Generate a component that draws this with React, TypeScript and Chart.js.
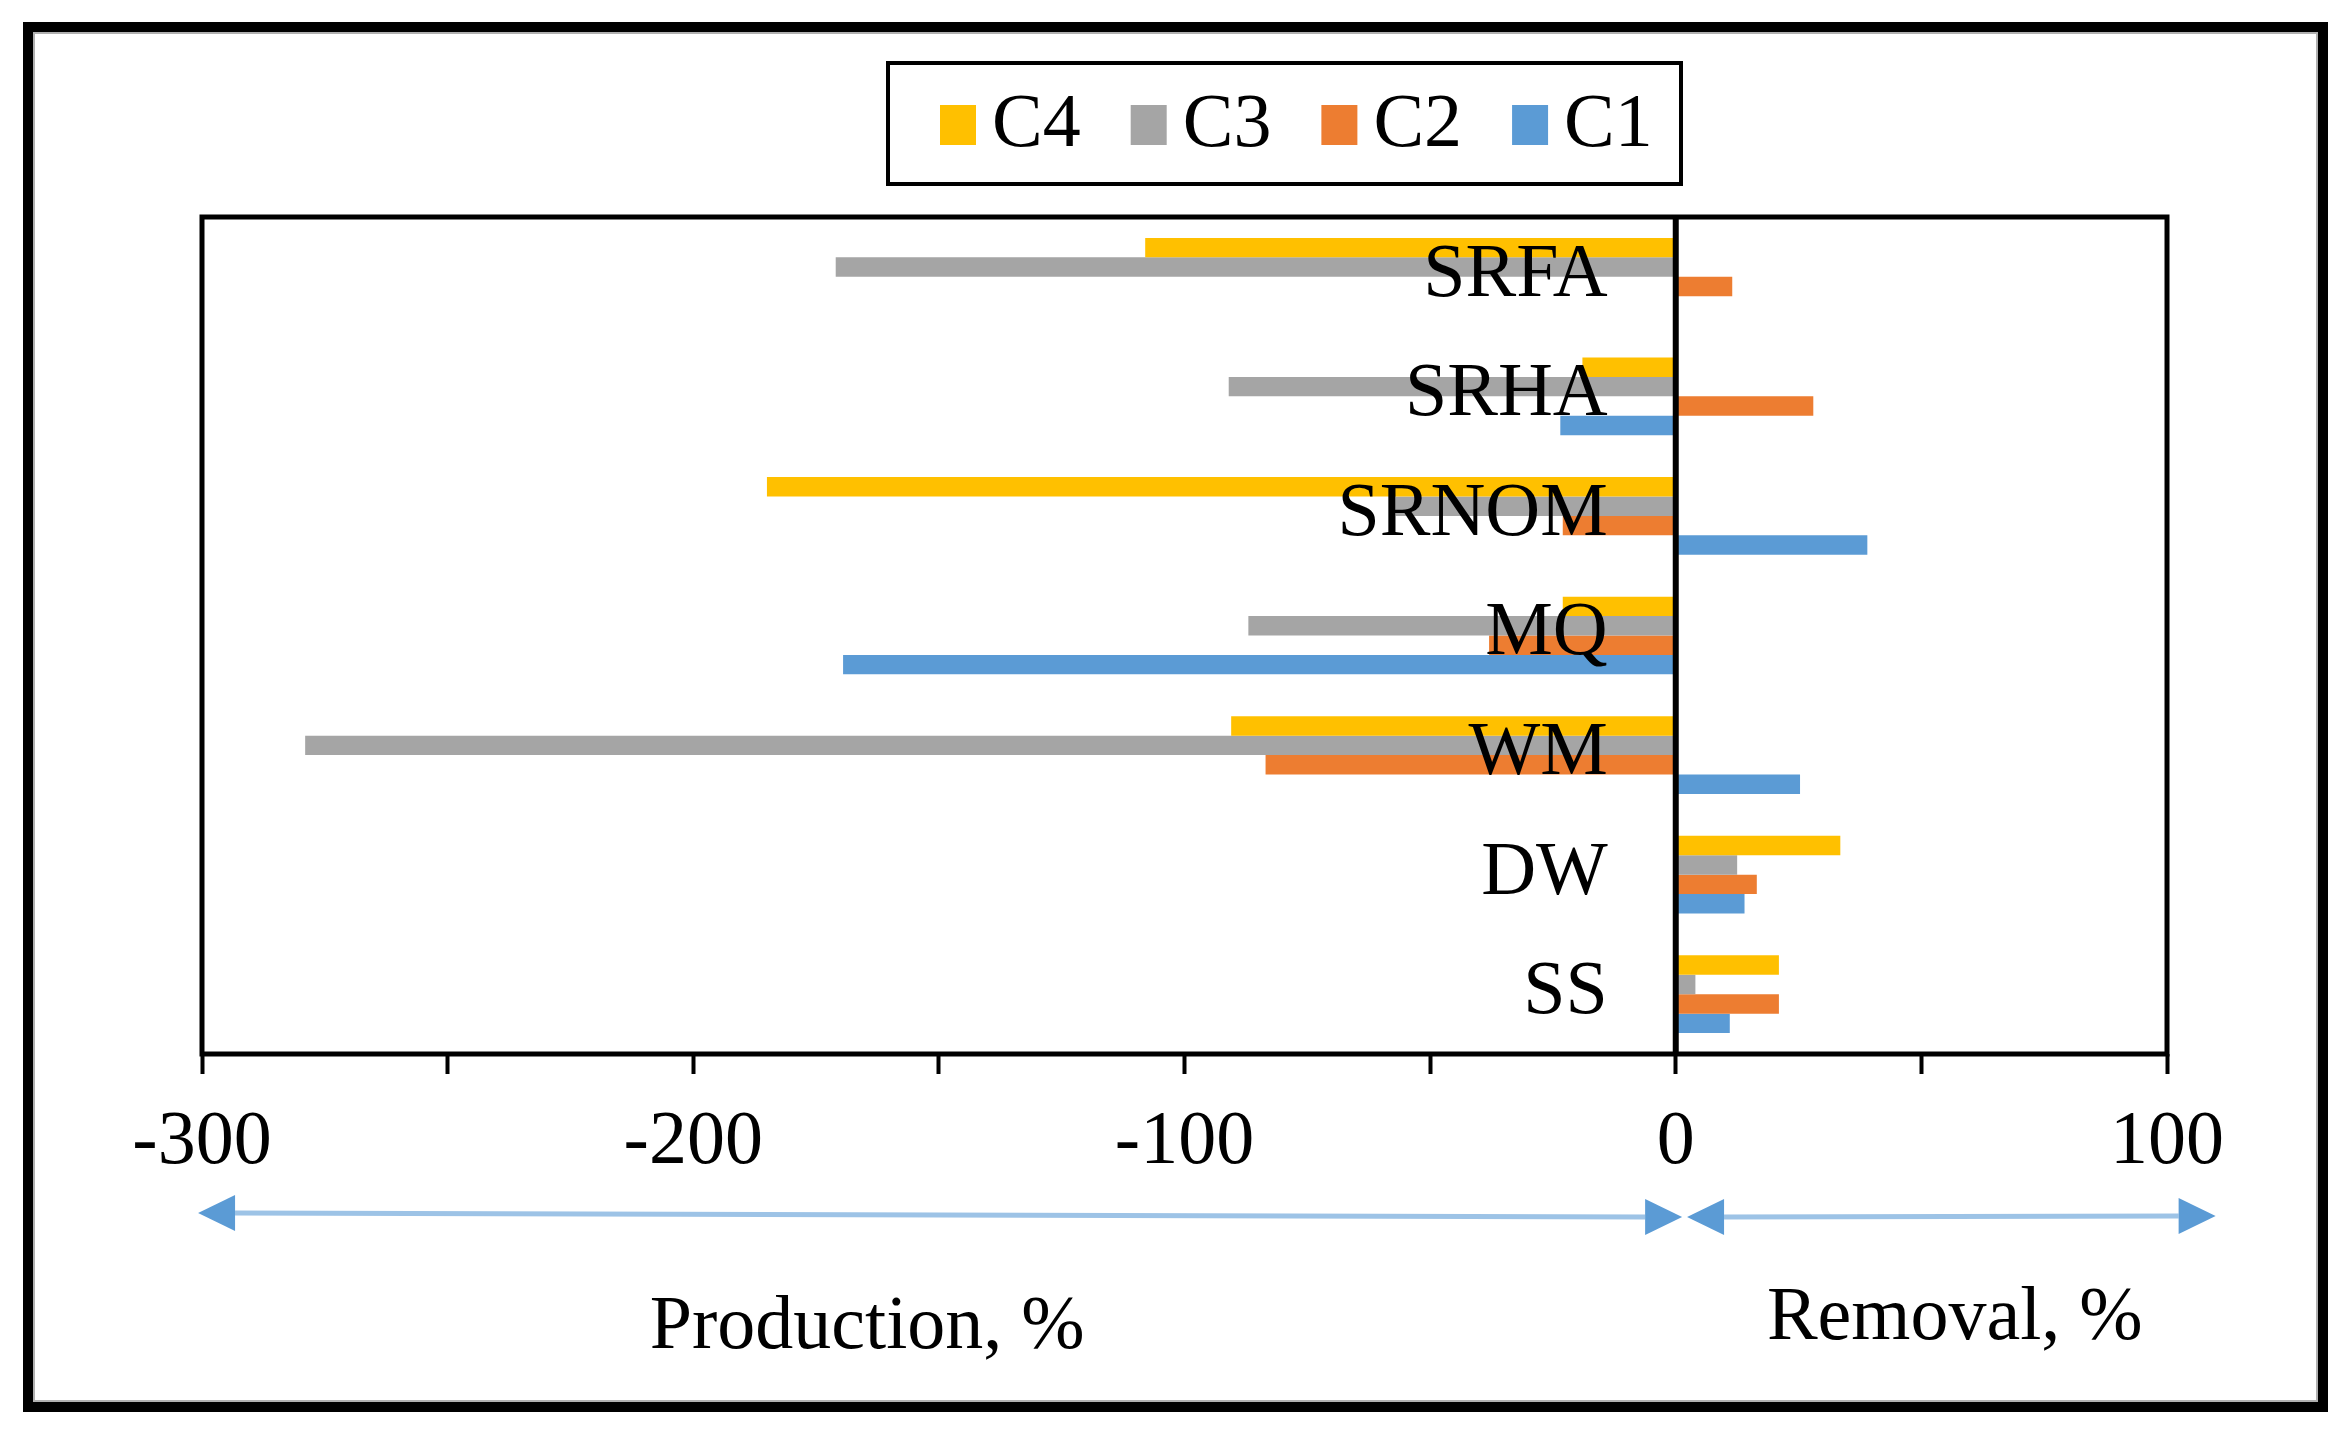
import { useEffect, useRef } from "react";
import { Chart, registerables } from "chart.js";

Chart.register(...registerables);

// ---------------- data ----------------
const categories = ["SRFA", "SRHA", "SRNOM", "MQ", "WM", "DW", "SS"];
const seriesNames = ["C4", "C3", "C2", "C1"];
const c4Values = [-108, -19, -185, -23, -90.5, 33.5, 21];
const c3Values = [-171, -91, -57, -87, -279, 12.5, 4];
const c2Values = [11.5, 28, -23, -38, -83.5, 16.5, 21];
const c1Values = [0, -23.5, 39, -169.5, 25.3, 14, 11];
const axisMin = -300;
const axisMax = 100;
const tickStep = 50;
const labelStep = 100;
const sideTitles = ["Production, %", "Removal, %"];

// ---------------- style ----------------
const seriesColors = ["#FFC000", "#A5A5A5", "#ED7D31", "#5B9BD5"];
const FONT = "'Liberation Serif', 'Times New Roman', serif";
const FONT_SIZE = 76;
const W = 2350;
const H = 1440;

const decorPlugin = {
  id: "decor",
  beforeDraw(chart: any) {
    const { ctx } = chart;
    ctx.save();
    ctx.fillStyle = "#ffffff";
    ctx.fillRect(0, 0, chart.width, chart.height);
    // outer frame
    ctx.strokeStyle = "#000000";
    ctx.lineWidth = 10;
    ctx.strokeRect(28, 27, 2295, 1380);
    ctx.strokeStyle = "#b0b0b0";
    ctx.lineWidth = 2;
    ctx.strokeRect(34, 33, 2283, 1368);
    ctx.restore();
  },
  afterDatasetsDraw(chart: any) {
    const { ctx, chartArea } = chart;
    const xs = chart.scales.x;
    const ys = chart.scales.y;
    const zero = xs.getPixelForValue(0);
    ctx.save();

    // category labels (drawn over the bars, next to the zero line)
    ctx.font = `${FONT_SIZE}px ${FONT}`;
    ctx.fillStyle = "#000000";
    ctx.textAlign = "right";
    ctx.textBaseline = "middle";
    (chart.data.labels as string[]).forEach((lab, i) => {
      ctx.fillText(lab, zero - 68, ys.getPixelForValue(i) - 1);
    });

    // zero line
    ctx.strokeStyle = "#000000";
    ctx.lineWidth = 6;
    ctx.beginPath();
    ctx.moveTo(zero, chartArea.top);
    ctx.lineTo(zero, chartArea.bottom);
    ctx.stroke();

    // plot frame
    ctx.lineWidth = 5;
    ctx.strokeRect(
      chartArea.left,
      chartArea.top,
      chartArea.right - chartArea.left,
      chartArea.bottom - chartArea.top
    );

    // legend box
    ctx.lineWidth = 4;
    ctx.strokeRect(888, 63, 793, 121);
    let lx = 940;
    ctx.textAlign = "left";
    ctx.textBaseline = "middle";
    chart.data.datasets.forEach((ds: any) => {
      ctx.fillStyle = ds.backgroundColor;
      ctx.fillRect(lx, 105, 36, 40);
      ctx.fillStyle = "#000000";
      ctx.fillText(ds.label, lx + 52, 126);
      lx += 52 + ctx.measureText(ds.label).width + 50;
    });

    // arrows under the axis
    const arrows = [
      { from: -300.8, to: 1.3, y1: 1213, y2: 1217 },
      { from: 2.3, to: 109.9, y1: 1217, y2: 1216 },
    ];
    const head = 37;
    const half = 18;
    arrows.forEach((a) => {
      const xa = xs.getPixelForValue(a.from);
      const xb = xs.getPixelForValue(a.to);
      ctx.strokeStyle = "#9DC3E6";
      ctx.lineWidth = 5;
      ctx.beginPath();
      ctx.moveTo(xa + head, a.y1);
      ctx.lineTo(xb - head, a.y2);
      ctx.stroke();
      ctx.fillStyle = "#5B9BD5";
      ctx.beginPath();
      ctx.moveTo(xa, a.y1);
      ctx.lineTo(xa + head, a.y1 - half);
      ctx.lineTo(xa + head, a.y1 + half);
      ctx.closePath();
      ctx.fill();
      ctx.beginPath();
      ctx.moveTo(xb, a.y2);
      ctx.lineTo(xb - head, a.y2 - half);
      ctx.lineTo(xb - head, a.y2 + half);
      ctx.closePath();
      ctx.fill();
    });

    // side titles
    ctx.fillStyle = "#000000";
    ctx.textAlign = "center";
    ctx.textBaseline = "alphabetic";
    ctx.font = `${FONT_SIZE}px ${FONT}`;
    ctx.fillText(sideTitles[0], xs.getPixelForValue(-164.6), 1348);
    ctx.fillText(sideTitles[1], xs.getPixelForValue(56.8), 1339);

    ctx.restore();
  },
};

export default function App() {
  const canvasRef = useRef<HTMLCanvasElement | null>(null);

  useEffect(() => {
    document.body.style.margin = "0";
    const canvas = canvasRef.current;
    if (!canvas) return;
    const seriesValues = [c4Values, c3Values, c2Values, c1Values];
    const chart = new Chart(canvas, {
      type: "bar",
      data: {
        labels: categories,
        datasets: seriesNames.map((name, i) => ({
          label: name,
          data: seriesValues[i],
          backgroundColor: seriesColors[i],
          borderWidth: 0,
          categoryPercentage: 0.65,
          barPercentage: 1.0,
        })),
      },
      options: {
        indexAxis: "y",
        responsive: false,
        maintainAspectRatio: false,
        devicePixelRatio: 1,
        animation: false,
        events: [],
        layout: {
          padding: { left: 202, right: 183, top: 217, bottom: 246 },
        },
        plugins: {
          legend: { display: false },
          tooltip: { enabled: false },
          title: { display: false },
        },
        scales: {
          x: {
            type: "linear",
            position: "bottom",
            min: axisMin,
            max: axisMax,
            afterFit: (scale: any) => {
              scale.height = 140;
            },
            ticks: {
              stepSize: tickStep,
              autoSkip: false,
              maxRotation: 0,
              padding: 23,
              color: "#000000",
              font: { family: FONT, size: FONT_SIZE },
              callback: (v: any) => (Number(v) % labelStep === 0 ? String(v) : ""),
            },
            grid: {
              display: true,
              drawOnChartArea: false,
              drawTicks: true,
              tickLength: 20,
              tickColor: "#000000",
              tickWidth: 4,
            },
            border: { display: false },
          },
          y: {
            type: "category",
            display: false,
            offset: true,
            grid: { display: false },
          },
        },
      },
      plugins: [decorPlugin],
    });
    return () => chart.destroy();
  }, []);

  return (
    <div style={{ width: W, height: H, background: "#ffffff" }}>
      <canvas
        ref={canvasRef}
        width={W}
        height={H}
        style={{ display: "block", width: W, height: H }}
      />
    </div>
  );
}
